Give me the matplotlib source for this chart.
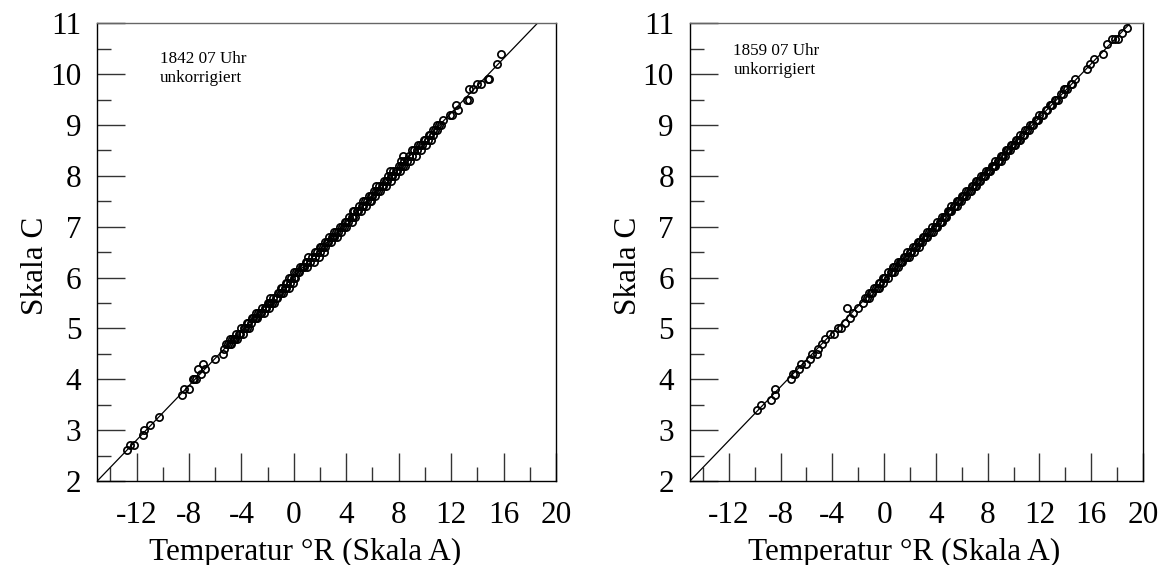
import matplotlib
matplotlib.use("Agg")
import matplotlib.pyplot as plt
from matplotlib.ticker import MultipleLocator, FixedLocator

plt.rcParams['font.family'] = ['Liberation Serif', 'DejaVu Serif']
plt.rcParams['axes.unicode_minus'] = False

# ---------------- data ----------------
x_major_ticks = [-12, -8, -4, 0, 4, 8, 12, 16, 20]
x_minor_ticks = [-14, -10, -6, -2, 2, 6, 10, 14, 18]
y_major_ticks = [2, 3, 4, 5, 6, 7, 8, 9, 10, 11]
x_limits = (-15, 20)
y_limits = (2, 11)

xlabel_text = "Temperatur °R (Skala A)"
ylabel_text = "Skala C"

left_title = ["1842 07 Uhr", "unkorrigiert"]
right_title = ["1859 07 Uhr", "unkorrigiert"]

# regression line parameters (Skala C = a + b * Skala A)
left_fit_intercept = 6.02
left_fit_slope = 0.268
right_fit_intercept = 5.97
right_fit_slope = 0.2647

# observations (Skala A, Skala C)
left_obs = [
    (-12.7, 2.6), (-12.5, 2.7), (-12.2, 2.7), (-11.5, 2.9), (-11.4, 3.0), (-11.0, 3.1),
    (-10.3, 3.25), (-8.5, 3.7), (-8.4, 3.8), (-8.0, 3.8), (-7.7, 4.0), (-7.6, 4.0),
    (-7.5, 4.0), (-7.1, 4.1), (-7.3, 4.2), (-6.8, 4.2), (-6.9, 4.3), (-6.0, 4.4),
    (-5.4, 4.5), (-5.3, 4.6),
    (-5.2, 4.7), (-5.0, 4.7), (-4.8, 4.7), (-4.9, 4.7),
    (-4.9, 4.8), (-4.7, 4.8), (-4.6, 4.8), (-4.5, 4.8), (-4.3, 4.8), (-4.6, 4.8),
    (-4.4, 4.9), (-4.1, 4.9), (-3.9, 4.9), (-4.2, 4.9),
    (-4.0, 5.0), (-3.8, 5.0), (-3.7, 5.0), (-3.4, 5.0), (-3.6, 5.0),
    (-3.5, 5.1), (-3.3, 5.1), (-3.6, 5.1),
    (-3.2, 5.2), (-3.1, 5.2), (-3.0, 5.2), (-2.8, 5.2), (-2.9, 5.2),
    (-2.9, 5.3), (-2.7, 5.3), (-2.6, 5.3), (-2.3, 5.3), (-2.5, 5.3),
    (-2.4, 5.4), (-2.1, 5.4), (-1.9, 5.4), (-2.2, 5.4),
    (-2.0, 5.5), (-1.8, 5.5), (-1.5, 5.5), (-1.7, 5.5), (-1.9, 5.5),
    (-1.6, 5.6), (-1.3, 5.6), (-1.4, 5.6), (-1.8, 5.6),
    (-1.2, 5.7), (-1.0, 5.7), (-0.8, 5.7), (-1.1, 5.7),
    (-0.9, 5.8), (-0.6, 5.8), (-0.4, 5.8), (-0.7, 5.8), (-1.0, 5.8),
    (-0.5, 5.9), (-0.3, 5.9), (-0.6, 5.9), (-0.1, 5.9),
    (-0.2, 6.0), (0.0, 6.0), (0.1, 6.0), (-0.4, 6.0),
    (0.2, 6.1), (0.4, 6.1), (0.3, 6.1), (0.0, 6.1),
    (0.5, 6.2), (0.7, 6.2), (0.8, 6.2), (0.6, 6.2), (1.0, 6.2),
    (1.0, 6.3), (1.2, 6.3), (1.5, 6.3), (0.9, 6.3),
    (1.1, 6.4), (1.4, 6.4), (1.9, 6.4), (1.6, 6.4),
    (1.6, 6.5), (1.8, 6.5), (2.3, 6.5), (2.0, 6.5),
    (2.0, 6.6), (2.2, 6.6), (2.4, 6.6), (2.1, 6.6),
    (2.5, 6.7), (2.6, 6.7), (2.8, 6.7), (2.4, 6.7),
    (2.9, 6.8), (3.0, 6.8), (3.3, 6.8), (2.7, 6.8), (3.1, 6.8),
    (3.1, 6.9), (3.4, 6.9), (3.6, 6.9), (3.2, 6.9),
    (3.5, 7.0), (3.8, 7.0), (4.0, 7.0), (3.7, 7.0),
    (3.9, 7.1), (4.1, 7.1), (4.4, 7.1), (4.0, 7.1),
    (4.2, 7.2), (4.5, 7.2), (4.7, 7.2), (4.4, 7.2),
    (4.6, 7.3), (4.8, 7.3), (5.1, 7.3), (4.9, 7.3), (4.5, 7.3),
    (5.0, 7.4), (5.2, 7.4), (5.5, 7.4), (5.3, 7.4),
    (5.3, 7.5), (5.6, 7.5), (5.8, 7.5), (5.4, 7.5), (5.9, 7.5),
    (5.7, 7.6), (6.0, 7.6), (6.2, 7.6), (5.9, 7.6),
    (6.1, 7.7), (6.3, 7.7), (6.6, 7.7), (6.4, 7.7),
    (6.5, 7.8), (6.7, 7.8), (7.0, 7.8), (6.8, 7.8), (6.3, 7.8),
    (6.9, 7.9), (7.1, 7.9), (7.4, 7.9), (7.0, 7.9),
    (7.2, 8.0), (7.5, 8.0), (7.7, 8.0), (7.4, 8.0),
    (7.6, 8.1), (7.9, 8.1), (8.1, 8.1), (7.8, 8.1), (7.3, 8.1),
    (8.0, 8.2), (8.3, 8.2), (8.5, 8.2), (8.2, 8.2),
    (8.4, 8.3), (8.6, 8.3), (8.9, 8.3), (8.2, 8.3),
    (8.8, 8.4), (9.0, 8.4), (9.3, 8.4), (8.3, 8.4),
    (9.2, 8.5), (9.4, 8.5), (9.7, 8.5), (9.0, 8.5),
    (9.6, 8.6), (9.8, 8.6), (10.1, 8.6), (9.5, 8.6),
    (10.0, 8.7), (10.2, 8.7), (10.5, 8.7), (9.9, 8.7),
    (10.4, 8.8), (10.3, 8.8), (10.6, 8.8),
    (10.6, 8.9), (10.8, 8.9), (10.9, 8.9),
    (11.1, 9.0), (10.9, 9.0), (11.2, 9.0),
    (11.4, 9.1), (11.9, 9.2), (12.1, 9.2), (12.5, 9.3), (12.4, 9.4),
    (13.2, 9.5), (13.35, 9.5), (13.4, 9.7), (13.65, 9.7), (14.0, 9.8), (14.3, 9.8),
    (14.8, 9.9), (14.9, 9.9), (15.5, 10.2), (15.8, 10.4),
]

right_obs = [
    (-9.85, 3.4), (-9.5, 3.5), (-8.75, 3.6), (-8.4, 3.7), (-8.4, 3.8),
    (-7.2, 4.0), (-7.05, 4.1), (-6.9, 4.1), (-6.6, 4.2), (-6.4, 4.3), (-6.0, 4.3),
    (-5.7, 4.4), (-5.6, 4.5), (-5.2, 4.5), (-5.1, 4.6), (-4.8, 4.7), (-4.55, 4.8),
    (-4.15, 4.9), (-3.9, 4.9), (-3.6, 5.0), (-3.3, 5.0), (-2.9, 5.4), (-3.0, 5.1),
    (-2.65, 5.2), (-2.4, 5.3), (-2.0, 5.4), (-1.6, 5.5), (-1.35, 5.6),
    (-1.5, 5.6), (-1.2, 5.6),
    (-1.0, 5.7), (-0.9, 5.7), (-1.2, 5.7),
    (-0.6, 5.8), (-0.4, 5.8), (-0.8, 5.8), (-0.5, 5.8),
    (-0.3, 5.9), (-0.1, 5.9), (-0.4, 5.9),
    (0.1, 6.0), (0.3, 6.0), (-0.1, 6.0), (0.0, 6.0),
    (0.5, 6.1), (0.6, 6.1), (0.3, 6.1), (0.8, 6.1),
    (0.9, 6.2), (1.1, 6.2), (0.7, 6.2), (0.8, 6.2),
    (1.2, 6.3), (1.4, 6.3), (1.1, 6.3), (1.3, 6.3),
    (1.6, 6.4), (1.8, 6.4), (1.5, 6.4), (1.9, 6.4),
    (2.0, 6.5), (2.1, 6.5), (1.8, 6.5), (2.3, 6.5),
    (2.4, 6.6), (2.5, 6.6), (2.2, 6.6), (2.7, 6.6),
    (2.8, 6.7), (2.9, 6.7), (2.6, 6.7), (2.7, 6.7),
    (3.1, 6.8), (3.3, 6.8), (3.0, 6.8), (3.2, 6.8),
    (3.5, 6.9), (3.6, 6.9), (3.3, 6.9), (3.8, 6.9),
    (3.9, 7.0), (4.1, 7.0), (3.7, 7.0), (4.0, 7.0),
    (4.3, 7.1), (4.4, 7.1), (4.1, 7.1), (4.5, 7.1),
    (4.6, 7.2), (4.8, 7.2), (4.5, 7.2), (4.7, 7.2),
    (5.0, 7.3), (5.2, 7.3), (4.9, 7.3), (5.1, 7.3),
    (5.4, 7.4), (5.5, 7.4), (5.2, 7.4), (5.6, 7.4),
    (5.8, 7.5), (5.9, 7.5), (5.6, 7.5), (5.7, 7.5),
    (6.1, 7.6), (6.3, 7.6), (6.0, 7.6), (6.2, 7.6),
    (6.5, 7.7), (6.6, 7.7), (6.3, 7.7), (6.7, 7.7),
    (6.9, 7.8), (7.0, 7.8), (6.8, 7.8), (7.1, 7.8),
    (7.3, 7.9), (7.4, 7.9), (7.1, 7.9), (7.2, 7.9),
    (7.7, 8.0), (7.8, 8.0), (7.5, 8.0), (7.6, 8.0),
    (8.0, 8.1), (8.2, 8.1), (7.9, 8.1), (8.1, 8.1),
    (8.4, 8.2), (8.5, 8.2), (8.3, 8.2), (8.6, 8.2),
    (8.8, 8.3), (8.9, 8.3), (8.6, 8.3), (9.0, 8.3),
    (9.2, 8.4), (9.3, 8.4), (9.0, 8.4), (9.1, 8.4),
    (9.5, 8.5), (9.7, 8.5), (9.4, 8.5), (9.6, 8.5),
    (9.9, 8.6), (10.0, 8.6), (9.8, 8.6), (10.1, 8.6),
    (10.3, 8.7), (10.4, 8.7), (10.2, 8.7), (10.5, 8.7),
    (10.7, 8.8), (10.8, 8.8), (10.5, 8.8),
    (11.0, 8.9), (11.2, 8.9), (10.9, 8.9),
    (11.4, 9.0), (11.5, 9.0), (11.3, 9.0),
    (11.8, 9.1), (11.9, 9.1), (11.7, 9.1),
    (12.2, 9.2), (12.3, 9.2), (12.0, 9.2),
    (12.6, 9.3), (12.5, 9.3),
    (12.9, 9.4), (13.0, 9.4), (12.8, 9.4),
    (13.3, 9.5), (13.4, 9.5), (13.2, 9.5),
    (13.7, 9.6), (13.8, 9.6),
    (14.1, 9.7), (13.9, 9.7), (14.0, 9.7),
    (14.4, 9.8), (14.5, 9.8),
    (14.75, 9.9),
    (15.65, 10.1), (15.9, 10.2), (16.2, 10.3), (16.9, 10.4), (17.2, 10.6),
    (17.6, 10.7), (17.85, 10.7), (18.1, 10.7), (18.35, 10.8), (18.75, 10.9),
]

# ---------------- figure ----------------
fig = plt.figure(figsize=(11.69, 5.65), dpi=100)
ax_l = fig.add_axes([0.0832, 0.1487, 0.3924, 0.8101])
ax_r = fig.add_axes([0.5902, 0.1487, 0.3876, 0.8101])

FS = 22.5


def draw(ax, obs, a, b, title, xlabel_x, title_pos):
    xs = [p[0] for p in obs]
    ys = [p[1] for p in obs]
    ax.plot(xs, ys, linestyle='none', marker='o', markersize=5.2,
            markerfacecolor='none', markeredgecolor='black', markeredgewidth=1.25,
            zorder=3)
    ax.axline((0, a), slope=b, color='black', linewidth=0.9, zorder=2)
    ax.set_xlim(*x_limits)
    ax.set_ylim(*y_limits)
    ax.xaxis.set_major_locator(FixedLocator(x_major_ticks))
    ax.xaxis.set_minor_locator(FixedLocator(x_minor_ticks))
    ax.yaxis.set_major_locator(FixedLocator(y_major_ticks))
    ax.yaxis.set_minor_locator(MultipleLocator(0.5))
    ax.tick_params(which='both', direction='in', colors='#333333', width=1.0,
                   labelcolor='black', labelsize=FS)
    ax.tick_params(axis='y', which='both', pad=11.5)
    ax.tick_params(axis='x', which='both', pad=14.5)
    ax.tick_params(which='major', length=20)
    ax.tick_params(which='minor', length=10)
    for side in ['left', 'bottom', 'right']:
        ax.spines[side].set_color('black')
        ax.spines[side].set_linewidth(1.0)
    ax.spines['top'].set_color('#666666')
    ax.spines['top'].set_linewidth(1.0)
    ax.set_xlabel(xlabel_text, fontsize=FS)
    ax.xaxis.set_label_coords(xlabel_x, -0.125)
    ax.set_ylabel(ylabel_text, fontsize=FS)
    ax.yaxis.set_label_coords(-0.104, 0.47)
    tx, ty1, ty2 = title_pos
    ax.text(tx, ty1, title[0], transform=ax.transAxes, fontsize=12.3,
            va='baseline', ha='left')
    ax.text(tx, ty2, title[1], transform=ax.transAxes, fontsize=12.3,
            va='baseline', ha='left')


draw(ax_l, left_obs, left_fit_intercept, left_fit_slope, left_title, 0.453,
     (0.137, 0.9127, 0.871))
draw(ax_r, right_obs, right_fit_intercept, right_fit_slope, right_title, 0.473,
     (0.0956, 0.930, 0.8886))

fig.savefig("out.png", dpi=100)
